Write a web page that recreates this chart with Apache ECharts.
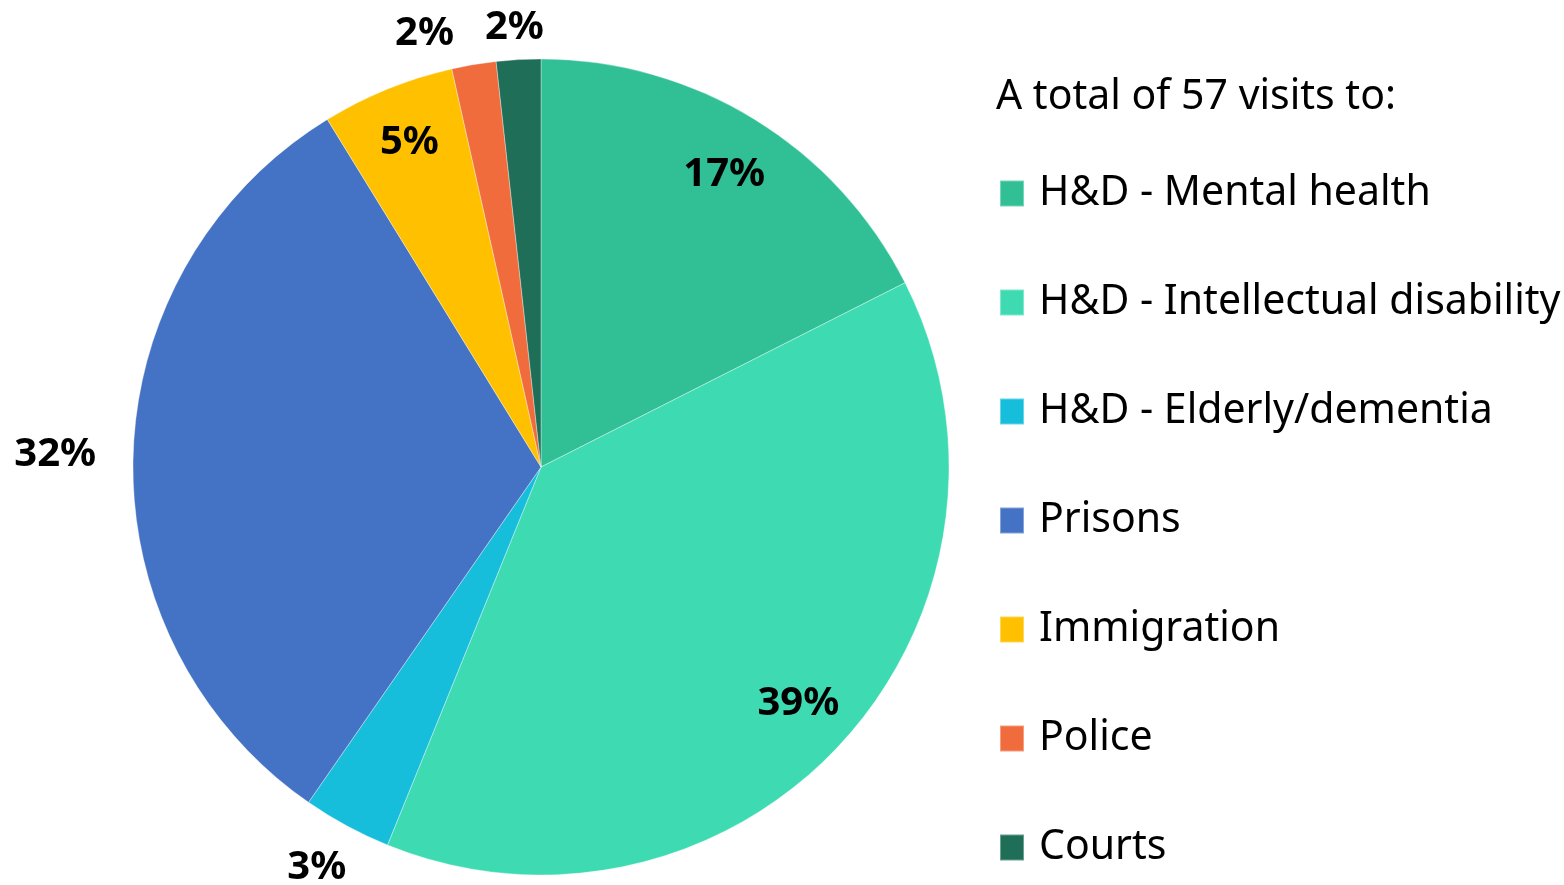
<!DOCTYPE html>
<html>
<head>
<meta charset="utf-8">
<script src="https://cdn.jsdelivr.net/npm/echarts@6/dist/echarts.min.js"></script>
<style>
html,body{margin:0;padding:0;background:#fff;}
#chart{width:1564px;height:885px;}
</style>
</head>
<body>
<div id="chart"></div>
<script>
// ---- data ----
const categories = ['H&D - Mental health','H&D - Intellectual disability','H&D - Elderly/dementia','Prisons','Immigration','Police','Courts'];
const visits = [10, 22, 2, 18, 3, 1, 1];
const percentLabels = ['17%','39%','3%','32%','5%','2%','2%'];
const titleText = 'A total of 57 visits to:';

// ---- style ----
const colors = ['#31BF95','#3EDBB3','#17BEDB','#4472C4','#FFC000','#F06C3C','#1F6E58'];
const outsideSet = new Set(['H&D - Elderly/dementia','Prisons','Police','Courts']);
const FONT = '"Noto Sans", "Open Sans", sans-serif';
const labelStyle = {color:'#000', fontFamily:FONT, fontWeight:'bold', fontSize:40};
const labelOffsets = {
  'H&D - Mental health':[0,6],
  'Prisons':[-40,0],
  'Police':[-43,7],
  'Courts':[-2,6],
  'H&D - Elderly/dementia':[-12,8]
};

const center = [541, 467];
const R = 408;

const mainData = categories.map((c,i)=>({name:c, value:visits[i], itemStyle:{color:colors[i]}}));
function labelData(outer){
  return categories.map((c,i)=>{
    const show = outer ? outsideSet.has(c) : !outsideSet.has(c);
    return {name:c, value:visits[i], label:{show:show, offset: labelOffsets[c] || [0,0]}};
  });
}

const chart = echarts.init(document.getElementById('chart'), null, {renderer:'canvas'});
chart.setOption({
  animation:false,
  backgroundColor:'#fff',
  title:{
    text:titleText, left:996, top:75, padding:0,
    textStyle:{fontFamily:FONT, fontWeight:'normal', fontSize:41, color:'#000', lineHeight:44}
  },
  legend:{
    orient:'vertical', left:999, top:173, padding:0,
    itemWidth:24, itemHeight:26, itemGap:68,
    icon:'rect',
    data:categories,
    textStyle:{fontFamily:FONT, fontSize:41, color:'#000', lineHeight:40, padding:[0,0,0,10]},
    selectedMode:false
  },
  series:[
    {
      type:'pie', center:center, radius:[0,R], startAngle:90, clockwise:true,
      data:mainData, label:{show:false}, labelLine:{show:false},
      itemStyle:{borderColor:'rgba(255,255,255,0.35)', borderWidth:1},
      emphasis:{disabled:true}, silent:true
    },
    {
      type:'pie', center:center, radius:[R*0.7,R], startAngle:90, clockwise:true,
      data:labelData(false),
      itemStyle:{color:'rgba(0,0,0,0)'},
      label:Object.assign({position:'inside'}, labelStyle,
        {formatter:p=>percentLabels[p.dataIndex]}),
      labelLine:{show:false}, avoidLabelOverlap:false,
      emphasis:{disabled:true}, silent:true, legendHoverLink:false
    },
    {
      type:'pie', center:center, radius:[R,R+70], startAngle:90, clockwise:true,
      data:labelData(true),
      itemStyle:{color:'rgba(0,0,0,0)'},
      label:Object.assign({position:'inside'}, labelStyle,
        {formatter:p=>percentLabels[p.dataIndex]}),
      labelLine:{show:false}, avoidLabelOverlap:false,
      emphasis:{disabled:true}, silent:true, legendHoverLink:false
    }
  ]
});
</script>
</body>
</html>
